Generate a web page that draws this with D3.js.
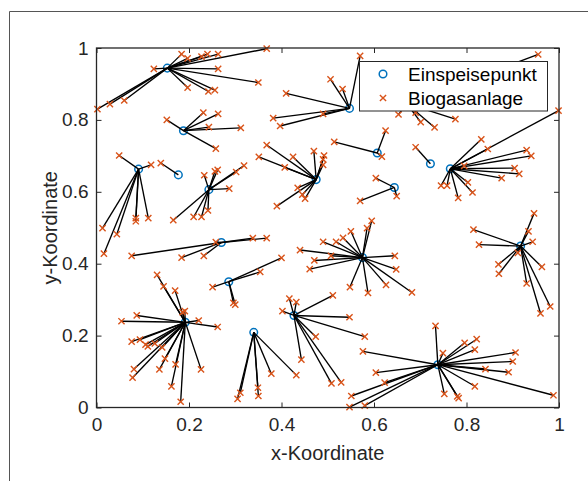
<!DOCTYPE html>
<html>
<head>
<meta charset="utf-8">
<script src="https://cdn.jsdelivr.net/npm/d3@7"></script>
<style>
  body { margin: 0; background: #fff; }
  svg text { font-family: "Liberation Sans", Arial, Helvetica, sans-serif; }
</style>
</head>
<body>
<div id="chart"></div>
<script>
// Einspeisepunkte (x, y) -- der letzte liegt unter der Legende
const einspeisepunkte = [
  [0.153,0.944],[0.188,0.770],[0.091,0.663],[0.177,0.647],[0.243,0.606],
  [0.270,0.459],[0.286,0.350],[0.340,0.209],[0.192,0.237],[0.427,0.256],
  [0.475,0.634],[0.547,0.832],[0.607,0.708],[0.644,0.612],[0.722,0.678],
  [0.765,0.664],[0.575,0.417],[0.917,0.449],[0.738,0.119],[0.671,0.845]
];

// Biogasanlagen (x, y, index des Einspeisepunkts)
const biogasanlagen = [
  [0.002,0.830,0],[0.029,0.844,0],[0.060,0.854,0],[0.124,0.942,0],[0.184,0.983,0],
  [0.197,0.971,0],[0.227,0.976,0],[0.240,0.983,0],[0.263,0.983,0],[0.368,0.998,0],
  [0.263,0.942,0],[0.197,0.890,0],[0.242,0.879,0],[0.256,0.883,0],[0.350,0.904,0],
  [0.152,0.800,1],[0.231,0.820,1],[0.263,0.817,1],[0.243,0.780,1],[0.312,0.778,1],[0.258,0.720,1],
  [0.049,0.701,2],[0.118,0.675,2],[0.013,0.499,2],[0.044,0.482,2],[0.016,0.428,2],
  [0.085,0.527,2],[0.085,0.518,2],[0.112,0.527,2],
  [0.139,0.680,3],
  [0.233,0.646,4],[0.256,0.657,4],[0.262,0.661,4],[0.302,0.655,4],[0.319,0.673,4],
  [0.287,0.609,4],[0.166,0.521,4],[0.210,0.530,4],[0.227,0.530,4],[0.241,0.548,4],
  [0.076,0.422,5],[0.184,0.417,5],[0.232,0.422,5],[0.258,0.460,5],[0.338,0.471,5],[0.368,0.471,5],
  [0.251,0.335,6],[0.354,0.377,6],[0.400,0.416,6],[0.296,0.291,6],[0.300,0.286,6],
  [0.305,0.024,7],[0.311,0.041,7],[0.349,0.055,7],[0.350,0.032,7],[0.378,0.094,7],[0.432,0.090,7],
  [0.131,0.369,8],[0.145,0.337,8],[0.170,0.325,8],[0.186,0.265,8],[0.191,0.268,8],
  [0.054,0.240,8],[0.087,0.256,8],[0.221,0.242,8],[0.262,0.224,8],[0.076,0.183,8],
  [0.094,0.189,8],[0.106,0.175,8],[0.111,0.170,8],[0.126,0.178,8],[0.142,0.167,8],
  [0.148,0.136,8],[0.171,0.120,8],[0.081,0.107,8],[0.078,0.083,8],[0.136,0.106,8],
  [0.162,0.059,8],[0.182,0.016,8],[0.226,0.106,8],
  [0.417,0.303,9],[0.432,0.293,9],[0.402,0.268,9],[0.511,0.312,9],[0.547,0.251,9],
  [0.580,0.197,9],[0.474,0.197,9],[0.443,0.133,9],[0.508,0.067,9],[0.529,0.070,9],
  [0.368,0.730,10],[0.351,0.697,10],[0.425,0.697,10],[0.407,0.668,10],[0.470,0.713,10],
  [0.492,0.701,10],[0.490,0.690,10],[0.490,0.675,10],[0.390,0.560,10],[0.435,0.611,10],
  [0.445,0.592,10],[0.451,0.581,10],
  [0.506,0.913,11],[0.532,0.886,11],[0.570,0.978,11],[0.410,0.874,11],[0.382,0.805,11],
  [0.397,0.783,11],[0.490,0.817,11],
  [0.514,0.739,12],[0.625,0.770,12],[0.617,0.698,12],
  [0.604,0.638,13],[0.649,0.588,13],[0.570,0.575,13],
  [0.690,0.724,14],
  [0.832,0.746,15],[0.846,0.719,15],[0.930,0.716,15],[0.940,0.700,15],[0.999,0.826,15],
  [0.904,0.666,15],[0.914,0.650,15],[0.876,0.638,15],[0.803,0.626,15],[0.813,0.598,15],
  [0.782,0.583,15],[0.745,0.617,15],[0.758,0.617,15],[0.795,0.672,15],
  [0.595,0.519,16],[0.585,0.499,16],[0.550,0.490,16],[0.533,0.472,16],[0.518,0.461,16],
  [0.490,0.461,16],[0.507,0.422,16],[0.440,0.438,16],[0.471,0.409,16],[0.461,0.385,16],
  [0.645,0.422,16],[0.648,0.384,16],[0.626,0.341,16],[0.682,0.320,16],[0.587,0.319,16],
  [0.548,0.335,16],
  [0.946,0.540,17],[0.934,0.490,17],[0.943,0.461,17],[0.815,0.495,17],[0.827,0.453,17],
  [0.911,0.430,17],[0.869,0.398,17],[0.870,0.372,17],[0.963,0.391,17],[0.930,0.345,17],
  [0.960,0.262,17],[0.981,0.281,17],
  [0.733,0.227,18],[0.749,0.151,18],[0.796,0.180,18],[0.822,0.190,18],[0.818,0.161,18],
  [0.906,0.153,18],[0.900,0.128,18],[0.841,0.107,18],[0.891,0.098,18],[0.988,0.034,18],
  [0.818,0.059,18],[0.752,0.038,18],[0.780,0.031,18],[0.783,0.026,18],[0.576,0.156,18],
  [0.604,0.097,18],[0.623,0.069,18],[0.551,0.032,18],[0.547,0.001,18],[0.580,0.005,18],
  [0.955,0.982,19],[0.653,0.815,19],[0.690,0.820,19],[0.701,0.794,19],[0.731,0.779,19],
  [0.776,0.802,19]
];

const ticks = [0, 0.2, 0.4, 0.6, 0.8, 1];
const tickLabels = ["0", "0.2", "0.4", "0.6", "0.8", "1"];
const legendLabels = ["Einspeisepunkt", "Biogasanlage"];

//=========================================================================
// Setup
//=========================================================================

const width = 588, height = 481;
const blue = "#0072BD", orange = "#D95319", axisColor = "#262626";

const svg = d3.select("#chart").append("svg")
  .attr("width", width)
  .attr("height", height);

svg.append("rect").attr("width", width).attr("height", height).attr("fill", "#fff");

// outer figure frame
svg.append("path")
  .attr("d", `M9.5,${height} V11.5 H${width}`)
  .attr("fill", "none")
  .attr("stroke", "#555")
  .attr("stroke-width", 1);

const x = d3.scaleLinear().domain([0, 1]).range([96.5, 559]);
const y = d3.scaleLinear().domain([0, 1]).range([407.5, 48]);

//=========================================================================
// Lines, markers
//=========================================================================

const plot = svg.append("g");

plot.selectAll("circle.hub")
  .data(einspeisepunkte)
  .enter().append("circle")
  .attr("class", "hub")
  .attr("cx", d => x(d[0]))
  .attr("cy", d => y(d[1]))
  .attr("r", 3.8)
  .attr("fill", "none")
  .attr("stroke", blue)
  .attr("stroke-width", 1.5);

plot.selectAll("line.link")
  .data(biogasanlagen)
  .enter().append("line")
  .attr("class", "link")
  .attr("x1", d => x(d[0]))
  .attr("y1", d => y(d[1]))
  .attr("x2", d => x(einspeisepunkte[d[2]][0]))
  .attr("y2", d => y(einspeisepunkte[d[2]][1]))
  .attr("stroke", "#000")
  .attr("stroke-width", 1.35);

function cross(cx, cy, s) {
  return `M${cx - s},${cy - s}L${cx + s},${cy + s}M${cx - s},${cy + s}L${cx + s},${cy - s}`;
}

plot.selectAll("path.plant")
  .data(biogasanlagen)
  .enter().append("path")
  .attr("class", "plant")
  .attr("d", d => cross(x(d[0]), y(d[1]), 3.1))
  .attr("stroke", orange)
  .attr("stroke-width", 1.4)
  .attr("fill", "none");

//=========================================================================
// Axes
//=========================================================================

const fmt = (d, i) => tickLabels[i];

function styleAxis(g) {
  g.select(".domain").remove();
  g.selectAll("line").attr("stroke", axisColor);
  g.selectAll("text").attr("fill", axisColor).style("font-size", "19px");
}

svg.append("g").attr("transform", `translate(0,${y(0)})`)
  .call(d3.axisBottom(x).tickValues(ticks).tickFormat(fmt).tickSize(-5).tickPadding(10))
  .call(styleAxis);
svg.append("g").attr("transform", `translate(0,${y(1)})`)
  .call(d3.axisTop(x).tickValues(ticks).tickFormat("").tickSize(-5))
  .call(styleAxis);
svg.append("g").attr("transform", `translate(${x(0)},0)`)
  .call(d3.axisLeft(y).tickValues(ticks).tickFormat(fmt).tickSize(-5).tickPadding(8))
  .call(styleAxis);
svg.append("g").attr("transform", `translate(${x(1)},0)`)
  .call(d3.axisRight(y).tickValues(ticks).tickFormat("").tickSize(-5))
  .call(styleAxis);

svg.append("rect")
  .attr("x", x(0)).attr("y", y(1))
  .attr("width", x(1) - x(0)).attr("height", y(0) - y(1))
  .attr("fill", "none")
  .attr("stroke", axisColor)
  .attr("stroke-width", 1.3);

svg.append("text")
  .attr("x", (x(0) + x(1)) / 2).attr("y", 460)
  .attr("text-anchor", "middle")
  .attr("fill", axisColor)
  .style("font-size", "20px")
  .text("x-Koordinate");

svg.append("text")
  .attr("transform", `translate(57,${(y(0) + y(1)) / 2})rotate(-90)`)
  .attr("text-anchor", "middle")
  .attr("fill", axisColor)
  .style("font-size", "20px")
  .text("y-Koordinate");

//=========================================================================
// Legend
//=========================================================================

const legend = svg.append("g");
legend.append("rect")
  .attr("x", 359.5).attr("y", 61.5)
  .attr("width", 188).attr("height", 49.5)
  .attr("fill", "#fff")
  .attr("stroke", axisColor)
  .attr("stroke-width", 1);

legend.append("circle")
  .attr("cx", 383).attr("cy", 74).attr("r", 3.8)
  .attr("fill", "none").attr("stroke", blue).attr("stroke-width", 1.5);
legend.append("path")
  .attr("d", cross(383, 98, 3.1))
  .attr("stroke", orange).attr("stroke-width", 1.4);

legend.selectAll("text")
  .data(legendLabels)
  .enter().append("text")
  .attr("x", 408)
  .attr("y", (d, i) => 74 + i * 24)
  .attr("dy", "0.35em")
  .attr("fill", "#000")
  .style("font-size", "19px")
  .text(d => d);
</script>
</body>
</html>
